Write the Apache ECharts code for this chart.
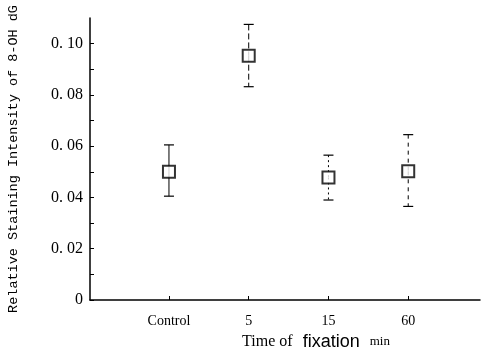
<!DOCTYPE html>
<html>
<head>
<meta charset="utf-8">
<script src="https://cdn.jsdelivr.net/npm/echarts@6/dist/echarts.min.js"></script>
<style>
  html, body { margin: 0; padding: 0; background: #fff; }
  #chart { width: 489px; height: 355px; }
</style>
</head>
<body>
<div id="chart"></div>
<script>
const categories = ['Control', '5', '15', '60'];
const positions = [1, 2, 3, 4];
const means = [0.050, 0.0953, 0.0478, 0.0502];
const upper = [0.0605, 0.1075, 0.0565, 0.0645];
const lower = [0.0405, 0.0832, 0.0390, 0.0365];
const yLabelTicks = [0, 0.02, 0.04, 0.06, 0.08, 0.10];
const yMinorTicks = [0, 0.01, 0.02, 0.03, 0.04, 0.05, 0.06, 0.07, 0.08, 0.09, 0.10];

const BAR_DASH = ['solid', [6, 3], [2, 3], [4, 4]];
const FONT = '"Liberation Serif", "DejaVu Serif", serif';

const chart = echarts.init(document.getElementById('chart'));

chart.setOption({
  animation: false,
  backgroundColor: '#fff',
  grid: { left: 90, right: 9, top: 18, bottom: 55, outerBoundsMode: 'none', containLabel: false },
  xAxis: {
    type: 'value',
    min: 0.01,
    max: 4.9,
    splitLine: { show: false },
    axisLine: { lineStyle: { color: '#000', width: 1.5 } },
    axisTick: { inside: true, length: 4, customValues: positions, lineStyle: { color: '#000' } },
    axisLabel: {
      customValues: positions,
      formatter: v => categories[positions.indexOf(v)],
      color: '#000', fontFamily: FONT, fontSize: 14, margin: 14
    },
    name: '{a|Time of}   {b|fixation}   {c|min}',
    nameLocation: 'middle',
    nameGap: 32,
    nameTextStyle: {
      padding: [0, 0, 0, 62],
      rich: {
        a: { fontFamily: FONT, fontSize: 16, color: '#000' },
        b: { fontFamily: '"Liberation Sans", Arial, sans-serif', fontSize: 18, color: '#000' },
        c: { fontFamily: FONT, fontSize: 13, color: '#000' }
      }
    }
  },
  yAxis: {
    type: 'value',
    min: 0,
    max: 0.11,
    interval: 0.02,
    splitLine: { show: false },
    axisLine: { show: true, lineStyle: { color: '#000', width: 1.5 } },
    axisTick: { inside: true, length: 4, customValues: yMinorTicks, lineStyle: { color: '#000' } },
    axisLabel: {
      customValues: yLabelTicks,
      formatter: v => v === 0 ? '0' : v.toFixed(2).replace('.', '. '),
      color: '#000', fontFamily: FONT, fontSize: 16, margin: 7
    },
    name: 'Relative Staining Intensity of 8-OH dG',
    nameLocation: 'middle',
    nameGap: 70,
    nameTextStyle: { fontFamily: '"Liberation Mono", monospace', fontSize: 13.5, color: '#000' }
  },
  series: [
    {
      type: 'custom',
      data: positions.map((x, i) => [x, lower[i], upper[i], means[i]]),
      renderItem: (params, api) => {
        const i = params.dataIndex;
        const lo = api.coord([api.value(0), api.value(1)]);
        const hi = api.coord([api.value(0), api.value(2)]);
        const mid = api.coord([api.value(0), api.value(3)]);
        const style = { stroke: '#000', lineWidth: 1, lineDash: BAR_DASH[i] };
        const capStyle = { stroke: '#000', lineWidth: 1.2 };
        const cap = 5;
        return {
          type: 'group',
          children: [
            { type: 'line', shape: { x1: hi[0], y1: hi[1], x2: mid[0], y2: mid[1] }, style },
            { type: 'line', shape: { x1: mid[0], y1: mid[1], x2: lo[0], y2: lo[1] }, style },
            { type: 'line', shape: { x1: hi[0] - cap, y1: hi[1], x2: hi[0] + cap, y2: hi[1] }, style: capStyle },
            { type: 'line', shape: { x1: lo[0] - cap, y1: lo[1], x2: lo[0] + cap, y2: lo[1] }, style: capStyle }
          ]
        };
      },
      z: 1
    },
    {
      type: 'scatter',
      data: positions.map((x, i) => [x, means[i]]),
      symbol: 'rect',
      symbolSize: 12,
      itemStyle: { color: '#fff', borderColor: '#000', borderWidth: 2 },
      z: 2
    }
  ]
});
</script>
</body>
</html>
